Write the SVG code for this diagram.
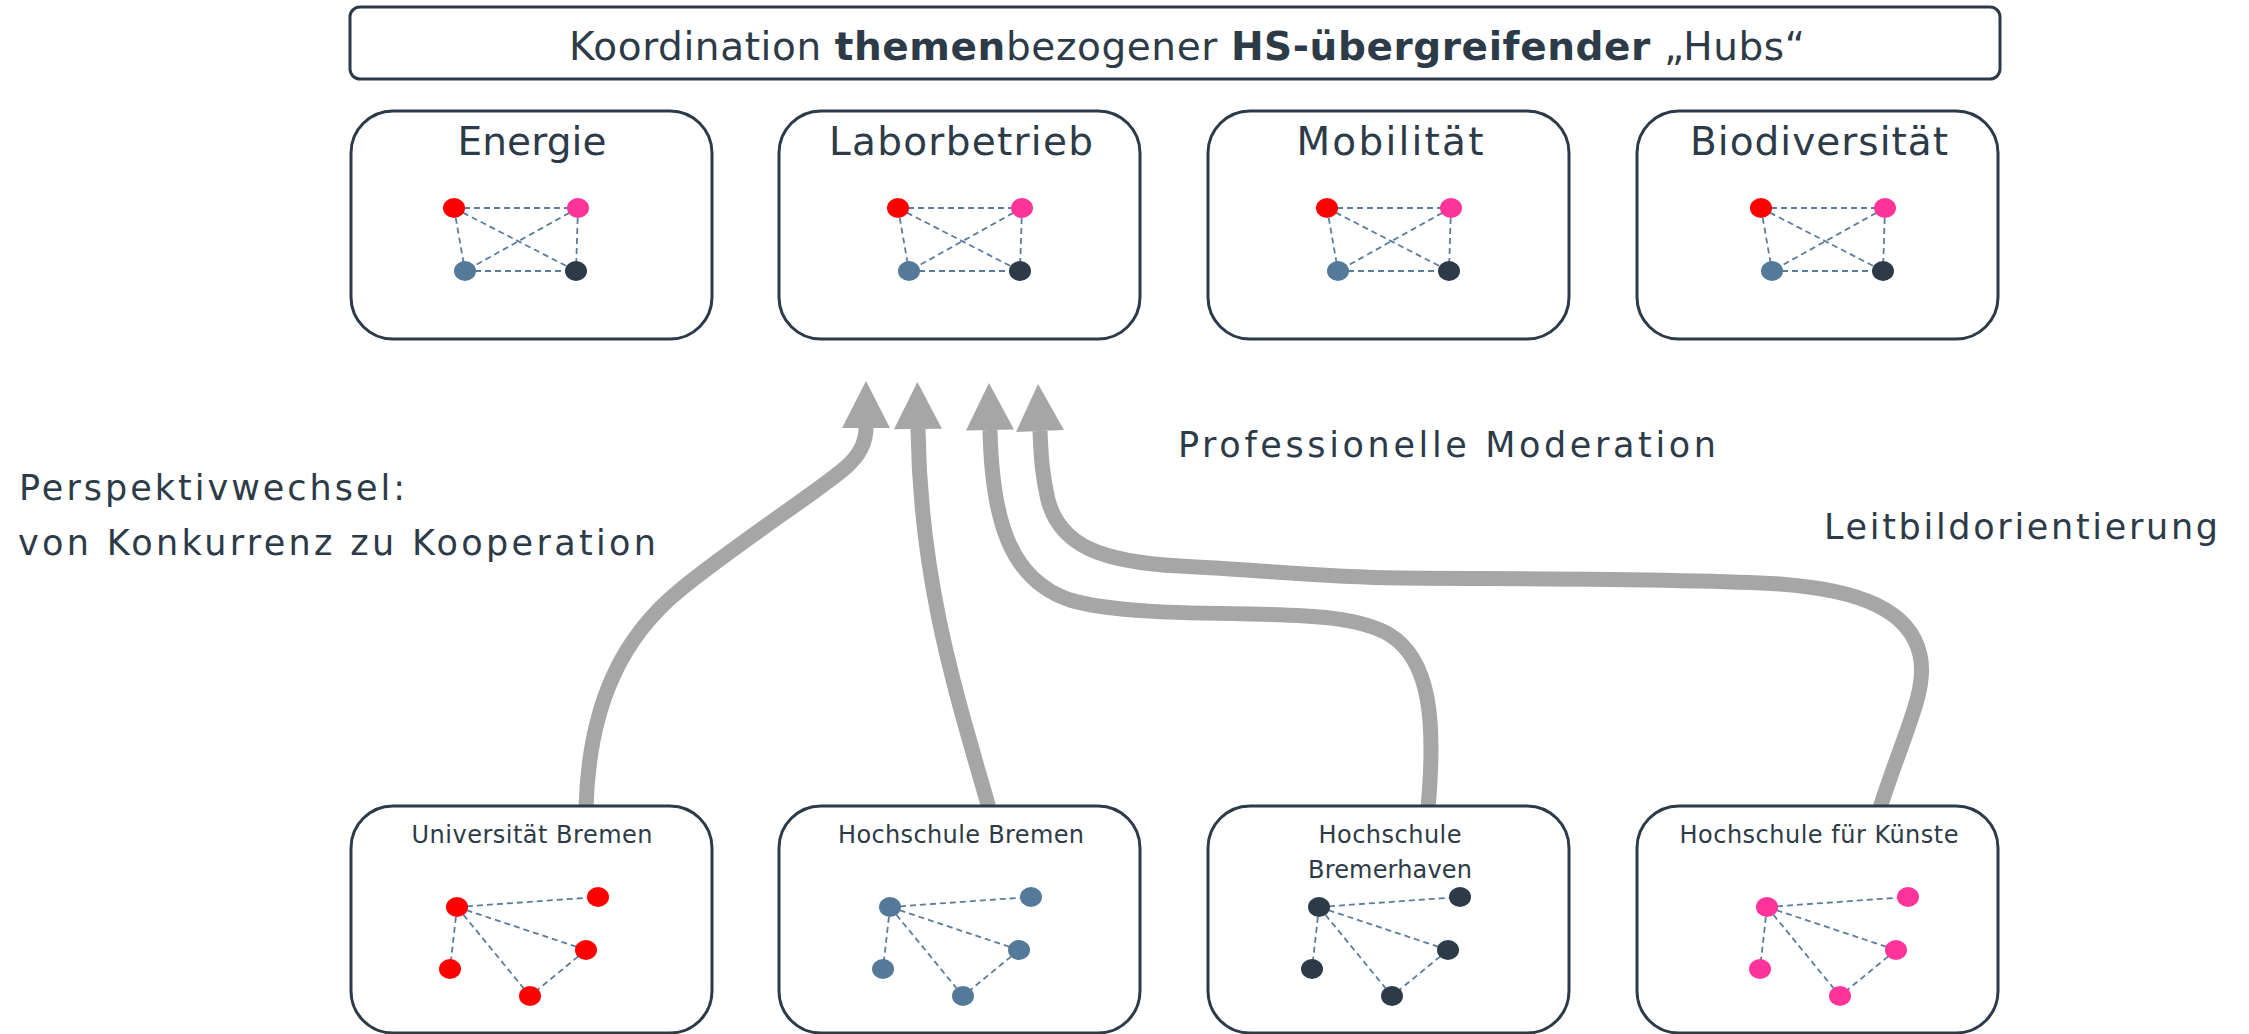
<svg xmlns="http://www.w3.org/2000/svg" xmlns:xlink="http://www.w3.org/1999/xlink" width="2249" height="1034" viewBox="0 0 2249 1034">
<style>
.box{fill:#fff;stroke:#2d3b48;stroke-width:3}
.t{font-family:"DejaVu Sans","Liberation Sans",sans-serif;fill:#2d3b48}
.e{fill:none;stroke:#5a7d9c;stroke-width:1.8;stroke-dasharray:6 4}
.r{fill:#ff0000}.p{fill:#ff3399}.b{fill:#557a99}.d{fill:#2d3b48}
.arrow{fill:none;stroke:#a6a6a6;stroke-width:15;marker-end:url(#ah)}
</style>
<defs>
<marker id="ah" markerUnits="userSpaceOnUse" markerWidth="48" markerHeight="48" viewBox="0 0 48 48" refX="0" refY="24" orient="auto" overflow="visible">
<path d="M0,0 L47,24 L0,48 Z" fill="#a6a6a6"/>
</marker>
<g id="k4">
<path class="e" d="M454 208 L578 208 M454 208 L465 271 M454 208 L576 271 M578 208 L465 271 M578 208 L576 271 M465 271 L576 271"/>
<ellipse class="r" cx="454" cy="208" rx="11" ry="10"/>
<ellipse class="p" cx="578" cy="208" rx="11" ry="10"/>
<ellipse class="b" cx="465" cy="271" rx="11" ry="10"/>
<ellipse class="d" cx="576" cy="271" rx="11" ry="10"/>
</g>
<g id="fan">
<path class="e" d="M457 907 L598 897 M457 907 L586 950 M457 907 L530 996 M457 907 L450 969 M586 950 L530 996"/>
<ellipse cx="457" cy="907" rx="11" ry="10"/>
<ellipse cx="598" cy="897" rx="11" ry="10"/>
<ellipse cx="586" cy="950" rx="11" ry="10"/>
<ellipse cx="530" cy="996" rx="11" ry="10"/>
<ellipse cx="450" cy="969" rx="11" ry="10"/>
</g>
</defs>
<rect width="2249" height="1034" fill="#fff"/>

<g id="title">
<rect class="box" x="350" y="7" width="1650" height="72" rx="10"/>
<text class="t" x="569" y="60" font-size="39" textLength="1236" lengthAdjust="spacing">Koordination <tspan font-weight="bold">themen</tspan>bezogener <tspan font-weight="bold">HS-übergreifender</tspan> „Hubs“</text>
</g>

<g id="hub-energie">
<rect class="box" x="351" y="111" width="361" height="228" rx="42"/>
<text class="t" x="532" y="155" font-size="39" text-anchor="middle" textLength="149" lengthAdjust="spacing">Energie</text>
<use href="#k4"/>
</g>
<g id="hub-laborbetrieb">
<rect class="box" x="779" y="111" width="361" height="228" rx="42"/>
<text class="t" x="961" y="155" font-size="39" text-anchor="middle" textLength="264" lengthAdjust="spacing">Laborbetrieb</text>
<use href="#k4" x="444"/>
</g>
<g id="hub-mobilitaet">
<rect class="box" x="1208" y="111" width="361" height="228" rx="42"/>
<text class="t" x="1390" y="155" font-size="39" text-anchor="middle" textLength="187" lengthAdjust="spacing">Mobilität</text>
<use href="#k4" x="873"/>
</g>
<g id="hub-biodiversitaet">
<rect class="box" x="1637" y="111" width="361" height="228" rx="42"/>
<text class="t" x="1819" y="155" font-size="39" text-anchor="middle" textLength="258" lengthAdjust="spacing">Biodiversität</text>
<use href="#k4" x="1307"/>
</g>

<g id="connectors">
<path class="arrow" d="M586 808 C589 700 625 635 680 590 C735 545 820 490 845 468 C858 457 866 445 866 428"/>
<path class="arrow" d="M989 808 C955 690 920 580 918 429"/>
<path class="arrow" d="M1428 808 C1436 720 1430 660 1390 635 C1360 617 1310 615 1250 614 C1180 613 1110 612 1070 600 C1010 580 992 520 990 430"/>
<path class="arrow" d="M1880 808 C1905 730 1928 690 1920 655 C1910 610 1860 590 1780 584 C1680 578 1500 579 1400 578 C1320 577 1260 570 1180 566 C1100 562 1060 545 1048 500 C1042 475 1041 455 1040 431"/>
</g>

<g id="uni-bremen">
<rect class="box" x="351" y="806" width="361" height="227" rx="42"/>
<text class="t" x="532" y="843" font-size="24" text-anchor="middle" textLength="241" lengthAdjust="spacing">Universität Bremen</text>
<use href="#fan" fill="#ff0000"/>
</g>
<g id="hs-bremen">
<rect class="box" x="779" y="806" width="361" height="227" rx="42"/>
<text class="t" x="961" y="843" font-size="24" text-anchor="middle" textLength="246" lengthAdjust="spacing">Hochschule Bremen</text>
<use href="#fan" x="433" fill="#557a99"/>
</g>
<g id="hs-bremerhaven">
<rect class="box" x="1208" y="806" width="361" height="227" rx="42"/>
<text class="t" x="1390" y="843" font-size="24" text-anchor="middle" textLength="143" lengthAdjust="spacing">Hochschule</text>
<text class="t" x="1390" y="878" font-size="24" text-anchor="middle" textLength="164" lengthAdjust="spacing">Bremerhaven</text>
<use href="#fan" x="862" fill="#2d3b48"/>
</g>
<g id="hfk">
<rect class="box" x="1637" y="806" width="361" height="227" rx="42"/>
<text class="t" x="1819" y="843" font-size="24" text-anchor="middle" textLength="279" lengthAdjust="spacing">Hochschule für Künste</text>
<use href="#fan" x="1310" fill="#ff3399"/>
</g>

<g id="labels">
<text class="t" x="19" y="500" font-size="35" textLength="386" lengthAdjust="spacing">Perspektivwechsel:</text>
<text class="t" x="18" y="555" font-size="35" textLength="638" lengthAdjust="spacing">von Konkurrenz zu Kooperation</text>
<text class="t" x="1178" y="457" font-size="35" textLength="538" lengthAdjust="spacing">Professionelle Moderation</text>
<text class="t" x="1824" y="539" font-size="35" textLength="394" lengthAdjust="spacing">Leitbildorientierung</text>
</g>
</svg>
